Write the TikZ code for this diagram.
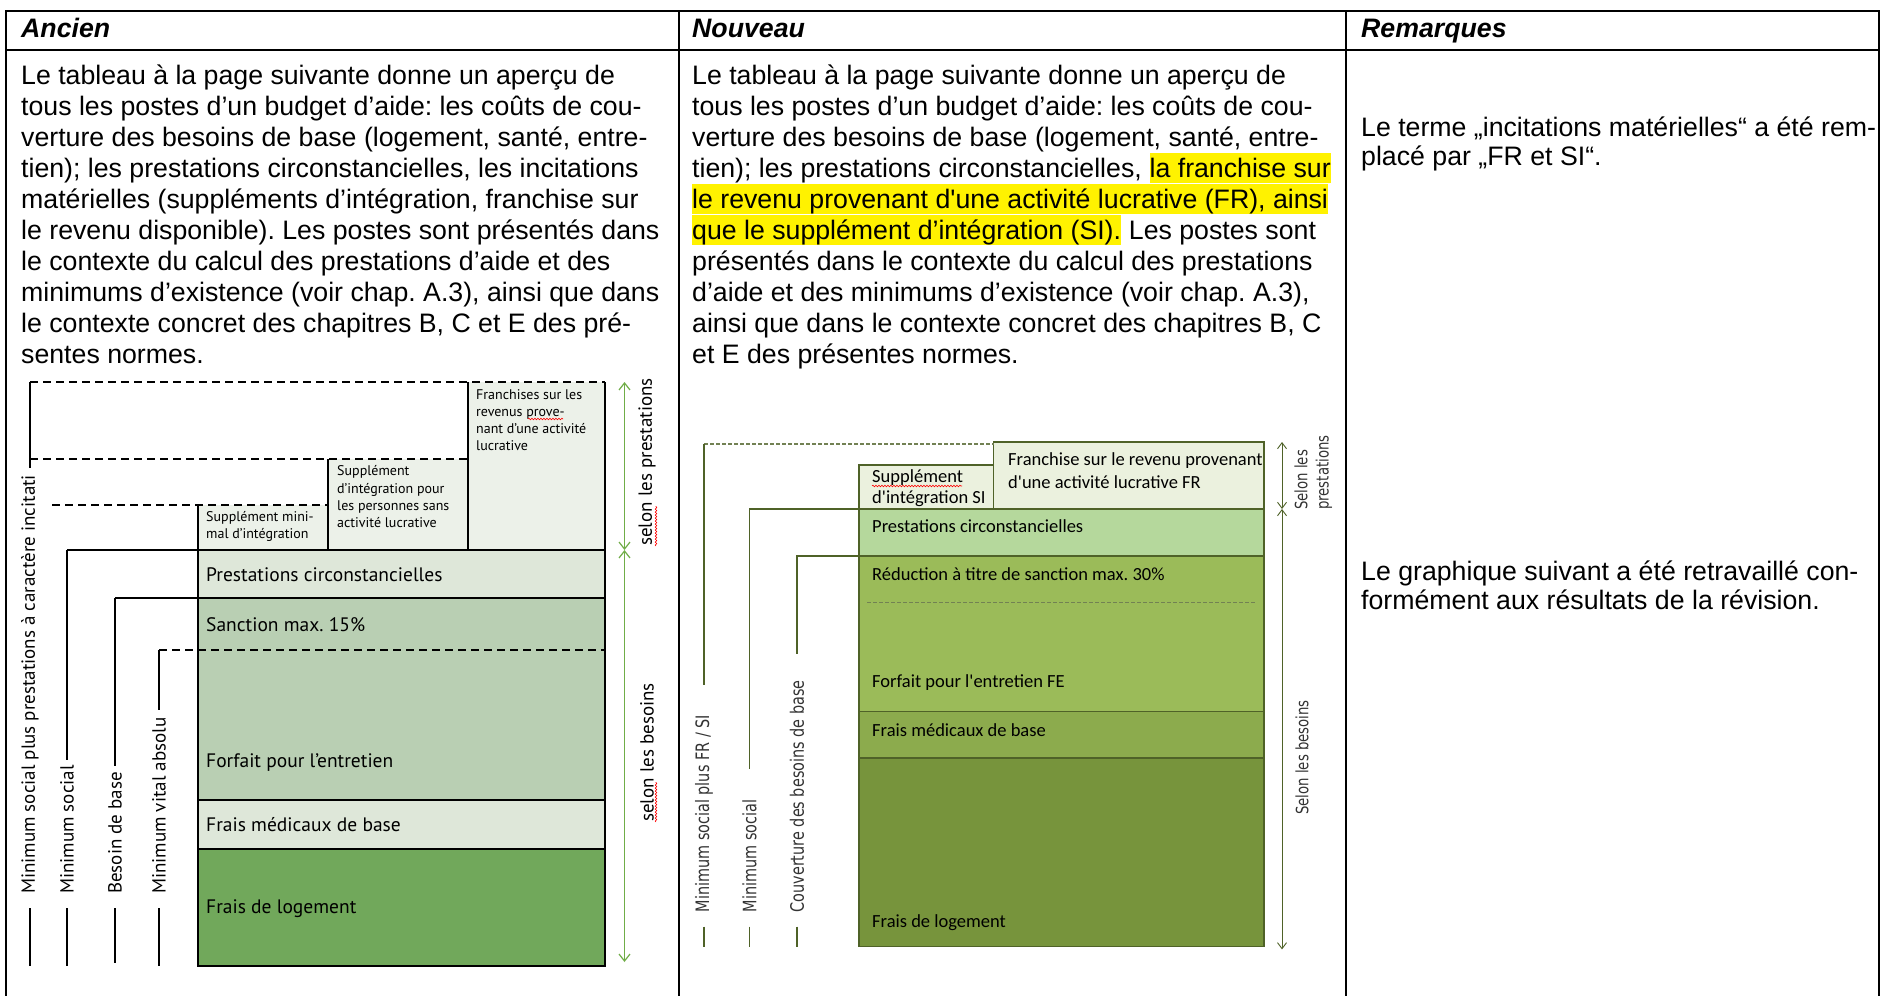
\documentclass[tikz,border=0pt]{standalone}
\usepackage{fontspec}
\setmainfont{Liberation Sans}
\newfontfamily\gill{PT Sans}
\newfontfamily\calib{Carlito}
\newfontfamily\verd[FakeStretch=0.78]{DejaVu Sans}
\usetikzlibrary{arrows.meta,decorations.pathmorphing}
\frenchspacing
\definecolor{oUp}{RGB}{236,241,233}
\definecolor{oLight}{RGB}{222,231,217}
\definecolor{oMid}{RGB}{185,207,179}
\definecolor{oDark}{RGB}{113,168,91}
\definecolor{oArrow}{RGB}{112,173,71}
\definecolor{nUp}{RGB}{235,241,222}
\definecolor{nPrest}{RGB}{181,216,156}
\definecolor{nRed}{RGB}{155,187,89}
\definecolor{nMed}{RGB}{140,171,77}
\definecolor{nLog}{RGB}{119,148,60}
\definecolor{nLine}{RGB}{79,98,40}
\tikzset{
  tabtxt/.style={anchor=base west, inner sep=0pt, font=\fontsize{26.7pt}{31pt}\selectfont},
  hlt/.style={tabtxt, fill=yellow, text height=24pt, text depth=6pt},
  headtxt/.style={tabtxt, font=\fontsize{26.7pt}{31pt}\selectfont\bfseries\itshape},
  olab/.style={anchor=base west, inner sep=0pt, font=\gill\fontsize{19.5pt}{22pt}\selectfont},
  osm/.style={anchor=base west, inner sep=0pt, font=\gill\fontsize{14pt}{17pt}\selectfont},
  orot/.style={rotate=90, anchor=west, inner sep=0pt, font=\gill\fontsize{19pt}{22pt}\selectfont},
  nlab/.style={anchor=base west, inner sep=0pt, font=\calib\fontsize{18.5pt}{22pt}\selectfont},
  nrot/.style={rotate=90, anchor=west, inner sep=0pt, font=\verd\fontsize{18.5pt}{22pt}\selectfont, text=black!80},
  oline/.style={line width=1.5pt, black},
  odash/.style={line width=1.5pt, black, dash pattern=on 8pt off 5pt},
  nline/.style={line width=1.2pt, nLine},
  ndash/.style={line width=1.1pt, nLine!80, dash pattern=on 4pt off 2pt},
  oarr/.style={line width=1.2pt, oArrow, {Straight Barb[length=7pt,width=11pt]}-{Straight Barb[length=7pt,width=11pt]}},
  narr/.style={line width=0.9pt, nLine, {Straight Barb[length=6pt,width=9pt]}-{Straight Barb[length=6pt,width=9pt]}},
  squig/.style={red, line width=0.6pt, decorate, decoration={snake, amplitude=0.8pt, segment length=3pt}},
  tabline/.style={line width=2pt, black}
}
\begin{document}
\begin{tikzpicture}[x=1pt,y=-1pt]
\useasboundingbox (0,0) rectangle (1885,996);
\fill[white] (0,0) rectangle (1885,996);

% ---------------- table frame ----------------
\draw[tabline] (6,11) -- (1879,11);
\draw[tabline] (6,50) -- (1879,50);
\draw[tabline] (6,10) -- (6,996);
\draw[tabline] (679,10) -- (679,996);
\draw[tabline] (1346,10) -- (1346,996);
\draw[tabline] (1879,10) -- (1879,996);

\node[headtxt] (h1) at (21,37) {Ancien};
\node[headtxt] (h2) at (692,37) {Nouveau};
\node[headtxt] (h3) at (1361,37) {Remarques};

% ---------------- Ancien text ----------------
\node[tabtxt] (a1) at (21,84) {Le tableau à la page suivante donne un aperçu de};
\node[tabtxt] (a2) at (21,115) {tous les postes d’un budget d’aide: les coûts de cou-};
\node[tabtxt] (a3) at (21,146) {verture des besoins de base (logement, santé, entre-};
\node[tabtxt] (a4) at (21,177) {tien); les prestations circonstancielles, les incitations};
\node[tabtxt] (a5) at (21,208) {matérielles (suppléments d’intégration, franchise sur};
\node[tabtxt] (a6) at (21,239) {le revenu disponible). Les postes sont présentés dans};
\node[tabtxt] (a7) at (21,270) {le contexte du calcul des prestations d’aide et des};
\node[tabtxt] (a8) at (21,301) {minimums d’existence (voir chap. A.3), ainsi que dans};
\node[tabtxt] (a9) at (21,332) {le contexte concret des chapitres B, C et E des pré-};
\node[tabtxt] (a10) at (21,363) {sentes normes.};

% ---------------- Nouveau text ----------------
\node[tabtxt] (b1) at (692,84) {Le tableau à la page suivante donne un aperçu de};
\node[tabtxt] (b2) at (692,115) {tous les postes d’un budget d’aide: les coûts de cou-};
\node[tabtxt] (b3) at (692,146) {verture des besoins de base (logement, santé, entre-};
\node[tabtxt] (b4a) at (692,177) {tien); les prestations circonstancielles,};
\node[hlt] (b4b) at ([xshift=7.4pt]b4a.base east) {la franchise sur};
\node[hlt] (b5) at (692,208) {le revenu provenant d\textquotesingle une activité lucrative (FR), ainsi};
\node[hlt] (b6a) at (692,239) {que le supplément d’intégration (SI).};
\node[tabtxt] (b6b) at ([xshift=7.4pt]b6a.base east) {Les postes sont};
\node[tabtxt] (b7) at (692,270) {présentés dans le contexte du calcul des prestations};
\node[tabtxt] (b8) at (692,301) {d’aide et des minimums d’existence (voir chap. A.3),};
\node[tabtxt] (b9) at (692,332) {ainsi que dans le contexte concret des chapitres B, C};
\node[tabtxt] (b10) at (692,363) {et E des présentes normes.};

% ---------------- Remarques ----------------
\node[tabtxt] (r1) at (1361,136) {Le terme „incitations matérielles“ a été rem-};
\node[tabtxt] (r2) at (1361,165) {placé par „FR et SI“.};
\node[tabtxt] (r3) at (1361,580) {Le graphique suivant a été retravaillé con-};
\node[tabtxt] (r4) at (1361,609) {formément aux résultats de la révision.};

% ================= Ancien chart =================
\fill[oUp] (468,382) rectangle (605,550);
\fill[oUp] (328,459) rectangle (468,550);
\fill[oUp] (198,505) rectangle (328,550);
\fill[oLight] (198,550) rectangle (605,598);
\fill[oMid] (198,598) rectangle (605,800);
\fill[oLight] (198,800) rectangle (605,849);
\fill[oDark] (198,849) rectangle (605,966);

% dashed levels
\draw[odash] (30,382) -- (605,382);
\draw[odash] (30,459) -- (468,459);
\draw[odash] (52,505) -- (328,505);
\draw[odash] (159,650) -- (605,650);
% box edges
\draw[oline] (605,382) -- (605,966) -- (198,966) -- (198,505);
\draw[oline] (328,459) -- (328,550);
\draw[oline] (468,382) -- (468,550);
\draw[oline] (67,550) -- (605,550);
\draw[oline] (115,598) -- (605,598);
\draw[oline] (198,800) -- (605,800);
\draw[oline] (198,849) -- (605,849);
% level lines
\draw[oline] (30,382) -- (30,468);
\draw[oline] (67,550) -- (67,760);
\draw[oline] (115,598) -- (115,766);
\draw[oline] (159,650) -- (159,710);
\draw[oline] (30,908) -- (30,966);
\draw[oline] (67,908) -- (67,966);
\draw[oline] (115,908) -- (115,963);
\draw[oline] (159,908) -- (159,966);

\node[orot] (oa) at (30,894) {Minimum social plus prestations à caractère incitati};
\node[orot] (ob) at (67,894) {Minimum social};
\node[orot] (oc) at (115,894) {Besoin de base};
\node[orot] (od) at (159,894) {Minimum vital absolu};

% box texts
\node[osm] (f1) at (476,399) {Franchises sur les};
\node[osm] (f2) at (476,416) {revenus prove-};
\node[osm] (f3) at (476,433) {nant d’une activité};
\node[osm] (f4) at (476,450) {lucrative};
\draw[squig] (528,419) -- (563,419);
\node[osm] (s1) at (337,475) {Supplément};
\node[osm] (s2) at (337,493) {d’intégration pour};
\node[osm] (s3) at (337,510) {les personnes sans};
\node[osm] (s4) at (337,527) {activité lucrative};
\node[osm] (m1) at (206,521) {Supplément mini-};
\node[osm] (m2) at (206,538) {mal d’intégration};
\node[olab] (op) at (206,581) {Prestations circonstancielles};
\node[olab] (os) at (206,631) {Sanction max. 15\%};
\node[olab] (of) at (206,767) {Forfait pour l’entretien};
\node[olab] (om) at (206,831) {Frais médicaux de base};
\node[olab] (ol) at (206,913) {Frais de logement};

% arrows
\coordinate (oA1) at (624.5,382);
\coordinate (oA2) at (624.5,550);
\coordinate (oA3) at (624.5,962);
\draw[oarr] (oA1) -- (oA2);
\draw[oarr] (oA2) -- (oA3);
\node[orot] (osp) at (647,546) {selon les prestations};
\node[orot] (osb) at (647,822) {selon les besoins};
\draw[squig] (656,546) -- (656,506);
\draw[squig] (656,822) -- (656,782);

% ================= Nouveau chart =================
\filldraw[fill=nUp, draw=nLine, line width=1.2pt] (993.6,442) rectangle (1264,509);
\filldraw[fill=nUp, draw=nLine, line width=1.2pt] (859,465) rectangle (993.6,509);
\filldraw[fill=nPrest, draw=nLine, line width=1.2pt] (859,509) rectangle (1264,556);
\filldraw[fill=nRed, draw=nLine, line width=1.2pt] (859,556) rectangle (1264,711.5);
\filldraw[fill=nMed, draw=nLine, line width=1.2pt] (859,711.5) rectangle (1264,758);
\filldraw[fill=nLog, draw=nLine, line width=1.2pt] (859,758) rectangle (1264,946.5);

\draw[ndash] (704,444) -- (993.6,444);
\draw[ndash] (867,602.7) -- (1256.6,602.7);

\draw[nline] (704,444) -- (704,684.7);
\draw[nline] (859,509) -- (749.4,509) -- (749.4,768.5);
\draw[nline] (859,556) -- (797,556) -- (797,653.5);
\draw[nline] (704,926.6) -- (704,946.5);
\draw[nline] (749.4,926.6) -- (749.4,946.5);
\draw[nline] (797,926.6) -- (797,946.5);

\node[nrot] (na) at (704,912.6) {Minimum social plus FR / SI};
\node[nrot] (nb) at (749.4,912.6) {Minimum social};
\node[nrot] (nc) at (797,912.6) {Couverture des besoins de base};

\node[nlab] (ns1) at (872,482) {Supplément};
\node[nlab] (ns2) at (872,503) {d'intégration SI};
\draw[squig] (872,486) -- (962,486);
\node[nlab] (nf1) at (1008,465) {Franchise sur le revenu provenant};
\node[nlab] (nf2) at (1008,488) {d'une activité lucrative FR};
\node[nlab] (np) at (872,532) {Prestations circonstancielles};
\node[nlab] (nr) at (872,580) {Réduction à titre de sanction max. 30\%};
\node[nlab] (nfe) at (872,687) {Forfait pour l'entretien FE};
\node[nlab] (nm) at (872,736) {Frais médicaux de base};
\node[nlab] (nl) at (872,927) {Frais de logement};

\coordinate (nA1) at (1282,442);
\coordinate (nA2) at (1282,509);
\coordinate (nA3) at (1282,949.4);
\draw[narr] (nA1) -- (nA2);
\draw[narr] (nA2) -- (nA3);
\node[nrot, font=\verd\fontsize{17pt}{20pt}\selectfont] (nsp1) at (1301,510) {Selon les};
\node[nrot, font=\verd\fontsize{17pt}{20pt}\selectfont] (nsp2) at (1324,510) {prestations};
\node[nrot, font=\verd\fontsize{17pt}{20pt}\selectfont] (nsb) at (1302,815) {Selon les besoins};
\end{tikzpicture}
\end{document}
